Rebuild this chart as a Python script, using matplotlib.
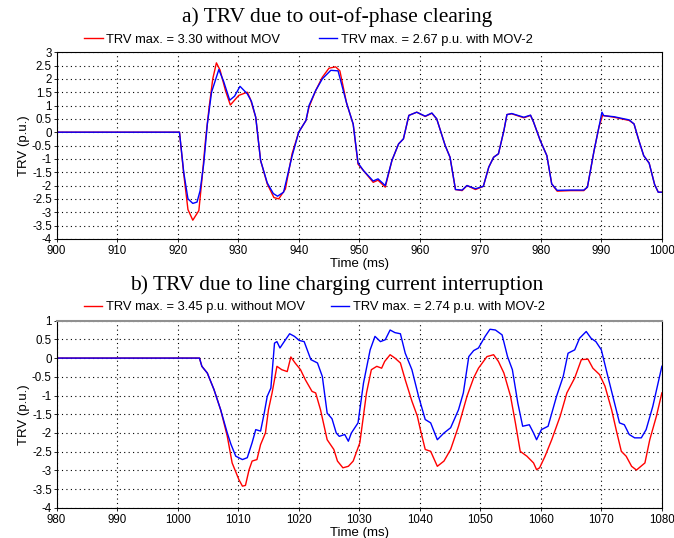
import matplotlib
matplotlib.use("Agg")
import matplotlib.pyplot as plt

# ---- a) out-of-phase clearing ----
a_red_t = [900, 920.3, 921, 921.7, 922.5, 923.5, 924, 924.6, 925.2, 925.8, 926.4, 927, 927.9, 928.7,
           930.1, 931.5, 932, 932.9, 933.7, 934.8, 935.9, 936.7, 937.8, 938.9, 940, 941.2,
           941.7, 942.8, 943.9, 945, 946.1, 946.8, 947.9, 949, 949.8, 950.7, 952.3, 953.1,
           954.3, 955.4, 956.5, 957.3, 958.2, 959.5, 960.9, 962, 962.8, 964.2, 965, 965.9,
           967, 967.8, 969.2, 970.5, 971.4, 972.2, 973, 973.9, 974.4, 975.2, 977.2, 978.3,
           978.8, 979.9, 981, 981.8, 982.7, 984.9, 987.1, 987.7, 988.8, 989.6, 990.2, 992.1,
           994.6, 995.4, 996.2, 997, 997.9, 998.8, 999.4, 1000]
a_red_v = [0, 0, -1.56, -2.9, -3.3, -2.94, -1.8, -0.3, 0.94, 2.0, 2.6, 2.33, 1.56, 1.02,
           1.38, 1.5, 1.25, 0.56, -1.06, -1.94, -2.45, -2.5, -2.13, -0.81, 0.0, 0.44,
           0.94, 1.56, 2.06, 2.4, 2.45, 2.3, 1.1, 0.3, -1.2, -1.44, -1.88, -1.8,
           -2.06, -1.06, -0.44, -0.25, 0.63, 0.75, 0.59, 0.71, 0.5, -0.5, -0.94, -2.15,
           -2.19, -2.0, -2.15, -2.03, -1.31, -0.94, -0.81, 0.06, 0.66, 0.69, 0.54, 0.63,
           0.38, -0.31, -0.88, -1.94, -2.21, -2.19, -2.19, -2.06, -0.69, 0.19, 0.63, 0.56,
           0.44, 0.31, -0.31, -0.88, -1.16, -1.96, -2.25, -2.25]

a_blue_t = [900, 920.3, 921, 921.7, 922.5, 923.2, 923.7, 924.3, 924.9, 925.6, 926.8, 927.6,
            928.6, 929.4, 930.3, 931.5, 932.2, 932.9, 933.7, 934.8, 935.8, 936.5, 937.5,
            938.9, 940, 941.2, 941.7, 942.8, 943.9, 945.3, 946.5, 947.9, 949, 949.8,
            950.7, 952.3, 953.1, 954.3, 955.4, 956.5, 957.3, 958.2, 959.5, 960.9, 962,
            962.8, 964.2, 965, 965.9, 967, 967.8, 969.2, 970.5, 971.4, 972.2, 973, 973.9,
            974.4, 975.2, 977.2, 978.3, 978.8, 979.9, 981, 981.8, 982.7, 984.9, 987.1,
            987.7, 988.8, 989.6, 990.1, 990.4, 992.1, 994.6, 995.4, 996.2, 997, 997.9,
            998.8, 999.4, 1000]
a_blue_v = [0, 0, -1.5, -2.5, -2.67, -2.62, -2.2, -1.2, 0.3, 1.5, 2.35, 1.9,
            1.2, 1.35, 1.72, 1.44, 1.15, 0.56, -1.06, -1.9, -2.3, -2.4, -2.25,
            -0.9, 0.0, 0.44, 1.0, 1.56, 2.0, 2.32, 2.3, 1.1, 0.3, -1.15,
            -1.44, -1.83, -1.75, -2.0, -1.06, -0.44, -0.25, 0.63, 0.75, 0.6, 0.72,
            0.5, -0.5, -0.94, -2.15, -2.17, -2.0, -2.12, -2.03, -1.31, -0.94, -0.81, 0.06,
            0.66, 0.7, 0.56, 0.64, 0.38, -0.31, -0.88, -1.94, -2.18, -2.17, -2.17,
            -2.06, -0.69, 0.19, 0.75, 0.62, 0.58, 0.46, 0.31, -0.31, -0.88, -1.16,
            -1.96, -2.25, -2.25]

# ---- b) line charging current interruption ----
b_red_t = [980, 1003.6, 1004, 1004.9, 1006, 1007.1, 1008.2, 1009, 1010.1, 1010.7, 1011.2,
           1011.8, 1012.3, 1013.1, 1013.7, 1014.5, 1015, 1015.6, 1016.4, 1017.2, 1018.1,
           1018.7, 1019.4, 1020.3, 1021.1, 1022.2, 1022.8, 1023.6, 1024.7, 1025.8, 1026.4,
           1027.3, 1028.2, 1029, 1030.1, 1031.2, 1032, 1032.9, 1033.7, 1034.2, 1035.1,
           1035.9, 1036.8, 1037.6, 1038.7, 1039.6, 1040.1, 1040.9, 1041.8, 1042.9, 1044,
           1045.1, 1046.4, 1047.8, 1048.9, 1049.7, 1051.1, 1052.2, 1053, 1053.9, 1055,
           1055.8, 1056.6, 1057.7, 1058.8, 1059.3, 1059.8, 1060.7, 1061.8, 1063.2, 1064.3,
           1065.6, 1066.7, 1067.8, 1068.6, 1069.7, 1070.6, 1071.7, 1072.5, 1073.3, 1074.1,
           1075, 1075.8, 1077.2, 1078, 1079.1, 1080]
b_red_v = [0, 0, -0.22, -0.4, -0.84, -1.38, -2.09, -2.8, -3.24, -3.42, -3.4,
           -2.98, -2.75, -2.71, -2.31, -2.0, -1.38, -0.93, -0.22, -0.31, -0.36,
           0.03, -0.13, -0.31, -0.58, -0.89, -0.93, -1.38, -2.18, -2.44, -2.75,
           -2.93, -2.89, -2.75, -2.26, -0.93, -0.31, -0.22, -0.27, -0.09, 0.09,
           0.0, -0.13, -0.58, -1.15, -1.55, -1.91, -2.44, -2.49, -2.89, -2.75,
           -2.44, -1.82, -1.02, -0.53, -0.27, 0.04, 0.09, -0.09, -0.4, -1.02,
           -1.73, -2.49, -2.62, -2.8, -2.98, -2.93, -2.62, -2.18, -1.55, -0.93,
           -0.53, -0.04, -0.03, -0.27, -0.44, -0.75, -1.38, -1.95, -2.49, -2.62,
           -2.89, -2.99, -2.8, -2.18, -1.55, -0.93]

b_blue_t = [980, 1003.6, 1004, 1004.9, 1006, 1007.1, 1008.2, 1008.8, 1009.6, 1010.7, 1011.5,
            1012.3, 1012.9, 1013.7, 1014.3, 1014.8, 1015.4, 1016, 1016.4, 1016.9, 1017.6,
            1018.5, 1019.3, 1020.1, 1020.9, 1022, 1023.1, 1023.9, 1024.7, 1025.5, 1026.2,
            1026.7, 1027.6, 1028.2, 1028.7, 1029.8, 1030.7, 1031.8, 1032.6, 1033.5, 1034.3,
            1035.1, 1035.9, 1036.8, 1037.6, 1038.7, 1039.8, 1040.9, 1041.8, 1042.9, 1044,
            1045.1, 1046.4, 1047.2, 1048.1, 1048.9, 1049.7, 1050.8, 1051.6, 1052.5, 1053.6,
            1054.5, 1055.3, 1056.2, 1057, 1058.1, 1058.8, 1059.3, 1060.1, 1061.2, 1062.6,
            1063.7, 1064.5, 1065.6, 1066.4, 1067.5, 1068.3, 1069.1, 1070, 1070.8, 1071.9,
            1073, 1073.8, 1074.6, 1075.5, 1076.6, 1077.4, 1078.5, 1080]
b_blue_v = [0, 0, -0.22, -0.4, -0.84, -1.38, -2.0, -2.3, -2.62, -2.71, -2.66,
            -2.26, -1.91, -1.95, -1.47, -1.02, -0.8, 0.4, 0.44, 0.27, 0.44,
            0.65, 0.58, 0.47, 0.44, -0.04, -0.13, -0.49, -1.47, -1.62, -2.0,
            -2.09, -2.04, -2.22, -2.0, -1.73, -0.67, 0.22, 0.58, 0.44, 0.49,
            0.75, 0.68, 0.65, 0.13, -0.31, -1.02, -1.64, -1.73, -2.18, -2.0,
            -1.86, -1.38, -0.93, 0.04, 0.2, 0.27, 0.58, 0.77, 0.75, 0.62,
            0.04, -0.31, -1.2, -1.82, -1.78, -2.0, -2.18, -1.91, -1.82, -1.02,
            -0.49, 0.13, 0.22, 0.53, 0.71, 0.53, 0.44, 0.22, -0.31, -1.02,
            -1.73, -1.78, -2.04, -2.13, -2.13, -1.91, -1.29, -0.22]

plt.rcParams['font.family'] = ['Liberation Sans', 'DejaVu Sans']

fig = plt.figure(figsize=(6.74, 5.38), dpi=100)
ax1 = fig.add_axes([0.084, 0.556, 0.898, 0.347])
ax2 = fig.add_axes([0.084, 0.056, 0.898, 0.348])


def style(ax, xlim, ylim, label_red, label_blue, red, blue, title, title_y, leg_xy, colsp):
    l1, = ax.plot(red[0], red[1], color='#ff0000', lw=1.0)
    l2, = ax.plot(blue[0], blue[1], color='#0000ff', lw=1.0)
    ax.set_xlim(*xlim)
    ax.set_ylim(*ylim)
    ax.set_xticks(range(xlim[0], xlim[1] + 1, 10))
    yt = [ylim[0] + 0.5 * i for i in range(int((ylim[1] - ylim[0]) / 0.5) + 1)]
    ax.set_yticks(yt)
    ax.set_yticklabels(['%g' % v for v in yt])
    ax.grid(True, color='black', linestyle=(0, (1, 3)), linewidth=0.8)
    ax.tick_params(labelsize=8.3, length=2, width=0.6, pad=1.5)
    ax.tick_params(axis='x', pad=2.5)
    ax.set_xlabel('Time (ms)', fontsize=9.5, labelpad=0)
    ax.xaxis.set_label_coords(0.5, -0.1)
    ax.set_ylabel('TRV (p.u.)', fontsize=9.5, labelpad=1)
    for s in ax.spines.values():
        s.set_linewidth(0.8)
    fig.legend([l1, l2], [label_red, label_blue], loc='center', bbox_to_anchor=leg_xy, ncol=2,
               frameon=False, fontsize=9.3, handlelength=1.4, handletextpad=0.3,
               columnspacing=colsp, borderaxespad=0, borderpad=0)
    fig.text(0.5, title_y, title, ha='center', va='center', fontsize=15.5,
             family='Liberation Serif')


style(ax1, (900, 1000), (-4, 3), 'TRV max. = 3.30 without MOV', 'TRV max. = 2.67 p.u. with MOV-2',
      (a_red_t, a_red_v), (a_blue_t, a_blue_v), 'a) TRV due to out-of-phase clearing', 0.968,
      (0.458, 0.926), 3.0)
style(ax2, (980, 1080), (-4, 1), 'TRV max. = 3.45 p.u. without MOV', 'TRV max. = 2.74 p.u. with MOV-2',
      (b_red_t, b_red_v), (b_blue_t, b_blue_v), 'b) TRV due to line charging current interruption', 0.470,
      (0.467, 0.429), 2.0)
ax2.spines['top'].set_color('#909090')
ax2.spines['top'].set_linewidth(1.5)

fig.savefig('out.png', dpi=100)
